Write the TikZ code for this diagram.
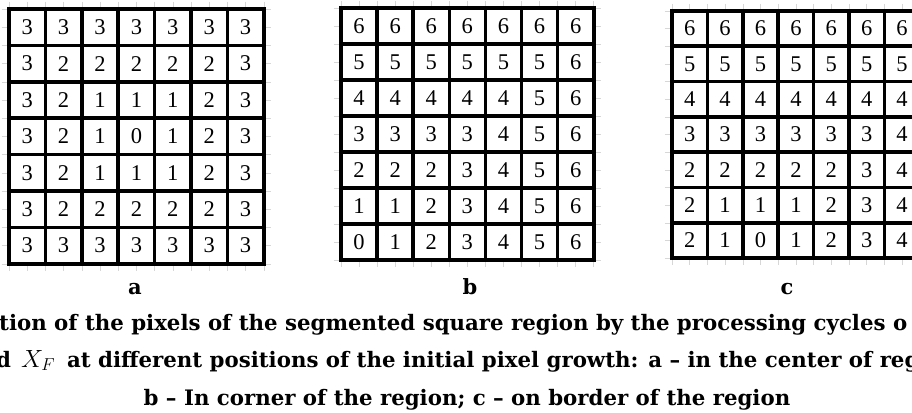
\documentclass[tikz,border=0pt]{standalone}
\usepackage{fontspec}
\setmainfont{Liberation Serif}
\newfontfamily\capfont{DejaVu Serif}
\definecolor{gridgray}{RGB}{215,215,215}
\usetikzlibrary{positioning}

\begin{document}
\begin{tikzpicture}[x=1pt, y=-1pt,
    numcell/.style={font=\fontsize{22.5}{22.5}\selectfont, inner sep=0pt},
    thinline/.style={gridgray, line width=0.6pt},
    thickline/.style={black, line width=3.6pt, line cap=rect},
    panellabel/.style={font=\capfont\bfseries\fontsize{21}{21}\selectfont, inner sep=0pt, anchor=base},
    captionline/.style={font=\capfont\bfseries\fontsize{21.3}{21.3}\selectfont, inner sep=0pt}]
  \useasboundingbox (0,0) rectangle (912,412);
  \clip (0,0) rectangle (912,412);

  % panel a: growth from the center
  \begin{scope}[shift={(9,9)}, x=36.4pt, y=-36.4pt]
    \foreach \k in {0,0.5,...,7} {
      \draw[thinline] (\k,-0.2) -- (\k,7.2);
      \draw[thinline] (-0.2,\k) -- (7.2,\k);
    }
    \fill[white] (0,0) rectangle (7,7);
    \foreach \k in {0,...,7} {
      \draw[thickline] (\k,0) -- (\k,7);
      \draw[thickline] (0,\k) -- (7,\k);
    }
    \foreach \row [count=\r] in {{3,3,3,3,3,3,3},{3,2,2,2,2,2,3},{3,2,1,1,1,2,3},
        {3,2,1,0,1,2,3},{3,2,1,1,1,2,3},{3,2,2,2,2,2,3},{3,3,3,3,3,3,3}}
      \foreach \v [count=\c] in \row
        \node[numcell] (a-\r-\c) at (\c-0.5,\r-0.5) {\v};
  \end{scope}

  % panel b: growth from the corner
  \begin{scope}[shift={(341,8)}, x=36.1pt, y=-36pt]
    \foreach \k in {0,0.5,...,7} {
      \draw[thinline] (\k,-0.2) -- (\k,7.2);
      \draw[thinline] (-0.2,\k) -- (7.2,\k);
    }
    \fill[white] (0,0) rectangle (7,7);
    \foreach \k in {0,...,7} {
      \draw[thickline] (\k,0) -- (\k,7);
      \draw[thickline] (0,\k) -- (7,\k);
    }
    \foreach \row [count=\r] in {{6,6,6,6,6,6,6},{5,5,5,5,5,5,6},{4,4,4,4,4,5,6},
        {3,3,3,3,4,5,6},{2,2,2,3,4,5,6},{1,1,2,3,4,5,6},{0,1,2,3,4,5,6}}
      \foreach \v [count=\c] in \row
        \node[numcell] (b-\r-\c) at (\c-0.5,\r-0.5) {\v};
  \end{scope}

  % panel c: growth from the border
  \begin{scope}[shift={(672,11)}, x=35.4pt, y=-35.3pt]
    \foreach \k in {0,0.5,...,7} {
      \draw[thinline] (\k,-0.2) -- (\k,7.2);
      \draw[thinline] (-0.2,\k) -- (7.2,\k);
    }
    \fill[white] (0,0) rectangle (7,7);
    \foreach \k in {0,...,7} {
      \draw[thickline] (\k,0) -- (\k,7);
      \draw[thickline] (0,\k) -- (7,\k);
    }
    \foreach \row [count=\r] in {{6,6,6,6,6,6,6},{5,5,5,5,5,5,5},{4,4,4,4,4,4,4},
        {3,3,3,3,3,3,4},{2,2,2,2,2,3,4},{2,1,1,1,2,3,4},{2,1,0,1,2,3,4}}
      \foreach \v [count=\c] in \row
        \node[numcell] (c-\r-\c) at (\c-0.5,\r-0.5) {\v};
  \end{scope}

  % panel letters
  \node[panellabel] (lbl-a) at (135,294) {a};
  \node[panellabel] (lbl-b) at (470,294) {b};
  \node[panellabel] (lbl-c) at (787,294) {c};

  % caption
  \node[captionline, anchor=base west] (cap1) at (-1,330)
    {tion of the pixels of the segmented square region by the processing cycles o};
  \node[captionline, anchor=base west] (cap2) at (-4,367)
    {d\hspace{10pt}\mbox{\fontsize{24}{24}\selectfont$X_F$}\hspace{12pt}at different positions of the initial pixel growth: a – in the center of reg};
  \node[captionline, anchor=base] (cap3) at (467,405)
    {b – In corner of the region; c – on border of the region};
\end{tikzpicture}
\end{document}
